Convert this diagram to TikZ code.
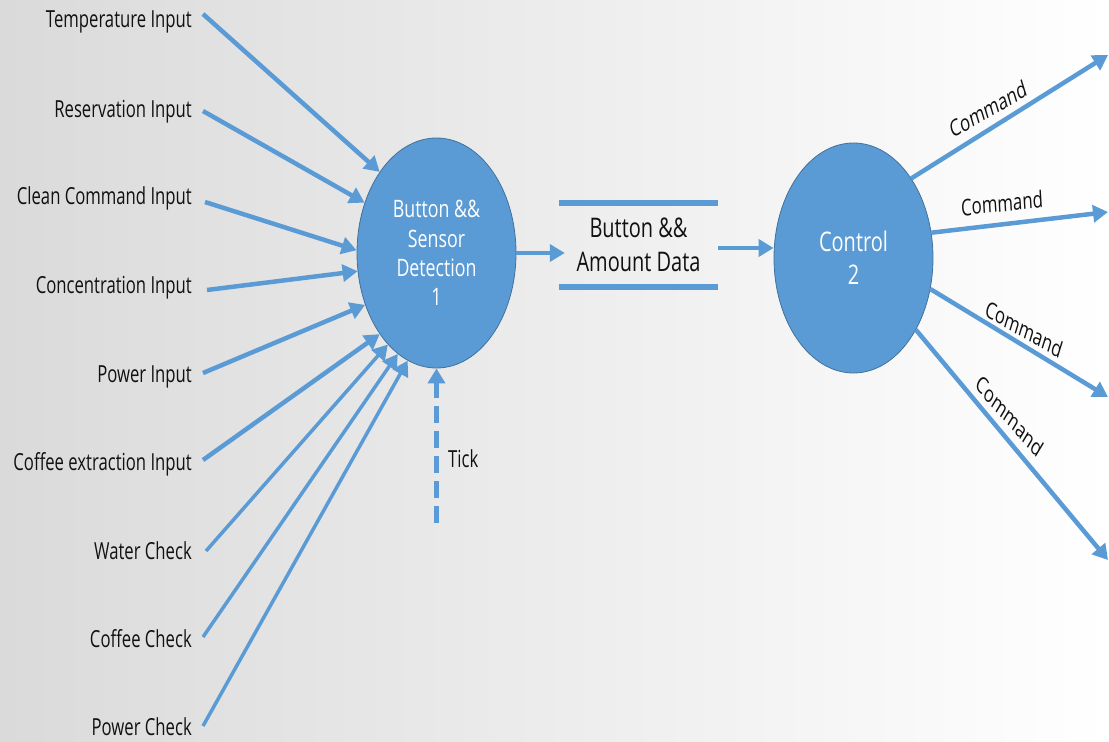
\documentclass[tikz,border=0pt]{standalone}
\usepackage{fontspec}
\setmainfont{Open Sans}
\usepackage{graphicx}
\usetikzlibrary{arrows.meta,shapes.geometric}
\definecolor{bl}{HTML}{5B9BD5}
\definecolor{bd}{HTML}{41719C}
\definecolor{bgl}{RGB}{218,218,218}
\definecolor{txt}{HTML}{111111}
\newcommand{\sq}[1]{\scalebox{0.71}[1]{#1}}
\newcommand{\sqb}[1]{\scalebox{0.74}[1]{#1}}
\tikzset{
  lab/.style={anchor=base east, inner sep=0pt, font=\fontsize{23.5}{28}\selectfont, text=txt},
  arr/.style={draw=bl, line width=4.5pt, -{Triangle[length=15pt,width=17pt]}},
  tharr/.style={arr, line width=3.5pt},
  proc/.style={ellipse, fill=bl, draw=bd, line width=0.8pt, minimum width=159pt,
    minimum height=230pt, inner sep=0pt, text=white, align=center},
  storebox/.style={minimum width=159pt, minimum height=84pt, inner sep=0pt, align=center,
    font=\fontsize{27}{34}\selectfont, text=txt},
  storeline/.style={draw=bl, line width=6pt},
  cmd/.style={inner sep=0pt, font=\fontsize{23}{26}\selectfont, text=txt, transform shape}
}
\begin{document}
\begin{tikzpicture}[x=1pt,y=-1pt]
\shade[left color=bgl, right color=white] (0,0) rectangle (1109,742);
\useasboundingbox (0,0) rectangle (1109,742);

% process nodes
\node[proc, font=\fontsize{24}{29.3}\selectfont] (e1) at (436.5,253)
  {\sqb{Button \&\&}\\\sqb{Sensor}\\\sqb{Detection}\\\sqb{1}};
\node[proc, font=\fontsize{27}{33}\selectfont] (e2) at (853.5,258)
  {\sqb{Control}\\\sqb{2}};

% data store
\node[storebox] (ds) at (638.5,245) {\sqb{Button \&\&}\\\sqb{Amount Data}};
\draw[storeline] (ds.north west) -- (ds.north east);
\draw[storeline] (ds.south west) -- (ds.south east);

% input labels
\node[lab] (t1) at (192,27)  {\sq{Temperature Input}};
\node[lab] (t2) at (192,117) {\sq{Reservation Input}};
\node[lab] (t3) at (192,204) {\sq{Clean Command Input}};
\node[lab] (t4) at (192,293) {\sq{Concentration Input}};
\node[lab] (t5) at (192,382) {\sq{Power Input}};
\node[lab] (t6) at (192,470) {\sq{Coffee extraction Input}};
\node[lab] (t7) at (192,559) {\sq{Water Check}};
\node[lab] (t8) at (192,647) {\sq{Coffee Check}};
\node[lab] (t9) at (192,735) {\sq{Power Check}};

\coordinate (s1) at (203,14);
\coordinate (s2) at (203,111);
\coordinate (s3) at (205,202);
\coordinate (s4) at (207,290);
\coordinate (s5) at (203,373);
\coordinate (s6) at (203,460);
\coordinate (s7) at (206,551);
\coordinate (s8) at (203,637);
\coordinate (s9) at (203,726);

\draw[arr] (s1) -- (e1.125.8);
\draw[arr] (s2) -- (e1.145.8);
\draw[arr] (s3) -- (e1.178);
\draw[arr] (s4) -- (e1.193.3);
\draw[arr] (s5) -- (e1.216.7);
\draw[arr] (s6) -- (e1.235.3);
\draw[tharr] (s7) -- (e1.242.2);
\draw[tharr] (s8) -- (e1.249.2);
\draw[tharr] (s9) -- (e1.255.5);

% tick
\coordinate (tk) at (436.5,523);
\draw[arr, dash pattern=on 17pt off 8pt] (tk) -- (e1.south);
\node[lab, anchor=base west] (tick) at (448,467) {\sq{Tick}};

% flows between processes
\draw[arr] (e1.east) -- ([xshift=6pt]e1.east -| ds.west);
\draw[arr] ([yshift=-3pt]ds.east) -- ([yshift=-3pt]ds.east -| e2.west);

% command outputs
\coordinate (c1) at (1108,55);
\coordinate (c2) at (1108,212);
\coordinate (c3) at (1108,397);
\coordinate (c4) at (1108,560);
\draw[arr] (e2.54.8) -- (c1);
\draw[arr] (e2.18.1) -- (c2);
\draw[arr] (e2.338.5) -- (c3);
\draw[arr] (e2.311) -- (c4);

\begin{scope}[shift={(988,109)}, xscale=0.73, rotate=22.9]
  \node[cmd] (k1) at (0,0) {Command};
\end{scope}
\begin{scope}[shift={(1002,203)}, xscale=0.73, rotate=4.5]
  \node[cmd] (k2) at (0,0) {Command};
\end{scope}
\begin{scope}[shift={(1024,329)}, xscale=0.73, rotate=-22.95]
  \node[cmd] (k3) at (0,0) {Command};
\end{scope}
\begin{scope}[shift={(1010,416)}, xscale=0.73, rotate=-39.6]
  \node[cmd] (k4) at (0,0) {Command};
\end{scope}
\end{tikzpicture}
\end{document}
